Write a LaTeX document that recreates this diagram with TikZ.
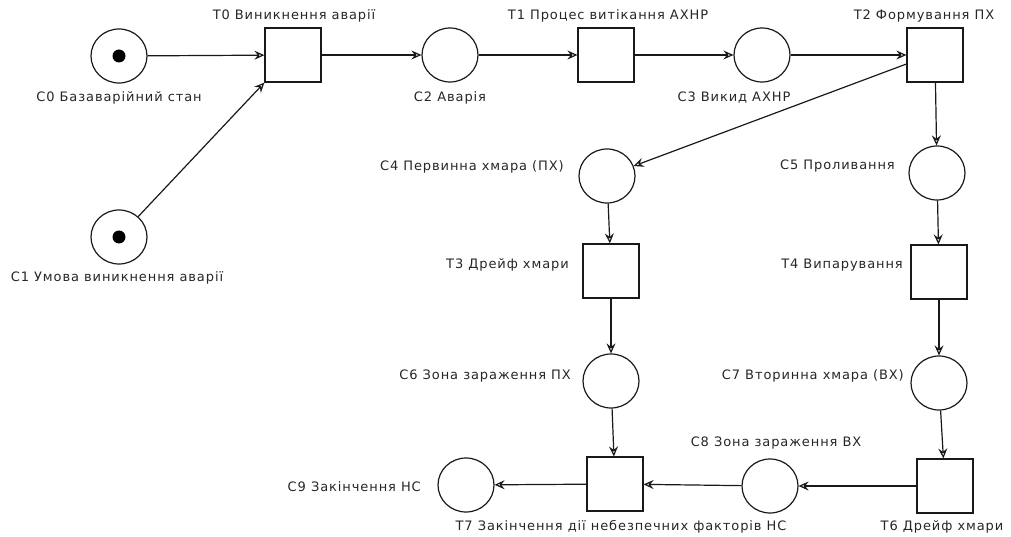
\documentclass[tikz,border=0pt]{standalone}
\usepackage{fontspec}
\setmainfont[LetterSpace=7]{DejaVu Sans}
\usetikzlibrary{arrows.meta,shapes.geometric}
\begin{document}
\begin{tikzpicture}[x=1pt,y=-1pt,
  place/.style={draw=black!90,line width=1.2pt,ellipse,minimum width=56pt,minimum height=54pt,inner sep=0pt},
  trans/.style={draw=black!90,line width=1.2pt,rectangle,minimum width=56pt,minimum height=54pt,inner sep=0pt},
  token/.style={fill=black,circle,minimum size=13pt,inner sep=0pt},
  lbl/.style={font=\fontsize{13}{15}\selectfont,text=black!85,inner sep=0pt},
  arc/.style={draw=black!90,line width=1.2pt,-{Stealth[open,length=10pt,width=9pt,inset=3.5pt]}}
]
\useasboundingbox (0,0) rectangle (1011,537);
% places
\node[place] (C0) at (119,56) {};
\node[token] (k0) at (C0) {};
\node[place] (C1) at (119,237) {};
\node[token] (k1) at (C1) {};
\node[place] (C2) at (450,55) {};
\node[place] (C3) at (762,55) {};
\node[place] (C4) at (607,176) {};
\node[place] (C5) at (937,173) {};
\node[place] (C6) at (611,381) {};
\node[place] (C7) at (939,383) {};
\node[place] (C8) at (770,486) {};
\node[place] (C9) at (466,485) {};
% transitions
\node[trans] (T0) at (293,55) {};
\node[trans] (T1) at (606,55) {};
\node[trans] (T2) at (935,55) {};
\node[trans] (T3) at (611,271) {};
\node[trans] (T4) at (939,272) {};
\node[trans] (T6) at (945,486) {};
\node[trans] (T7) at (615,484) {};
% labels
\node[lbl] (lC0) at (119,98) {С0 Базаварійний стан};
\node[lbl] (lC1) at (117,278) {С1 Умова виникнення аварії};
\node[lbl] (lT0) at (294,16) {Т0 Виникнення аварії};
\node[lbl] (lC2) at (450,98) {С2 Аварія};
\node[lbl] (lT1) at (608,16) {Т1 Процес витікання АХНР};
\node[lbl] (lC3) at (734,98) {С3 Викид АХНР};
\node[lbl] (lT2) at (924,16) {Т2 Формування ПХ};
\node[lbl,anchor=east] (lC4) at (564,167) {С4 Первинна хмара (ПХ)};
\node[lbl,anchor=east] (lC5) at (895,166) {С5 Проливання};
\node[lbl,anchor=east] (lT3) at (569,265) {Т3 Дрейф хмари};
\node[lbl,anchor=east] (lT4) at (903,265) {Т4 Випарування};
\node[lbl,anchor=east] (lC6) at (571,376) {С6 Зона зараження ПХ};
\node[lbl,anchor=east] (lC7) at (904,376) {С7 Вторинна хмара (ВХ)};
\node[lbl] (lC8) at (776,443) {С8 Зона зараження ВХ};
\node[lbl,anchor=east] (lC9) at (421,487) {С9 Закінчення НС};
\node[lbl] (lT7) at (621,527) {Т7 Закінчення дії небезпечних факторів НС};
\node[lbl] (lT6) at (942,527) {Т6 Дрейф хмари};
% arcs
\draw[arc] (C0) -- (T0);
\draw[arc] (C1) -- (T0.south west);
\draw[arc] (T0) -- (C2);
\draw[arc] (C2) -- (T1);
\draw[arc] (T1) -- (C3);
\draw[arc] (C3) -- (T2);
\draw[arc] (T2.west |- 0,64) -- (C4);
\draw[arc] (T2) -- (C5);
\draw[arc] (C4) -- (T3);
\draw[arc] (C5) -- (T4);
\draw[arc] (T3) -- (C6);
\draw[arc] (T4) -- (C7);
\draw[arc] (C6) -- (T7);
\draw[arc] (C7) -- (T6);
\draw[arc] (T6) -- (C8);
\draw[arc] (C8) -- (T7);
\draw[arc] (T7) -- (C9);
\end{tikzpicture}
\end{document}
